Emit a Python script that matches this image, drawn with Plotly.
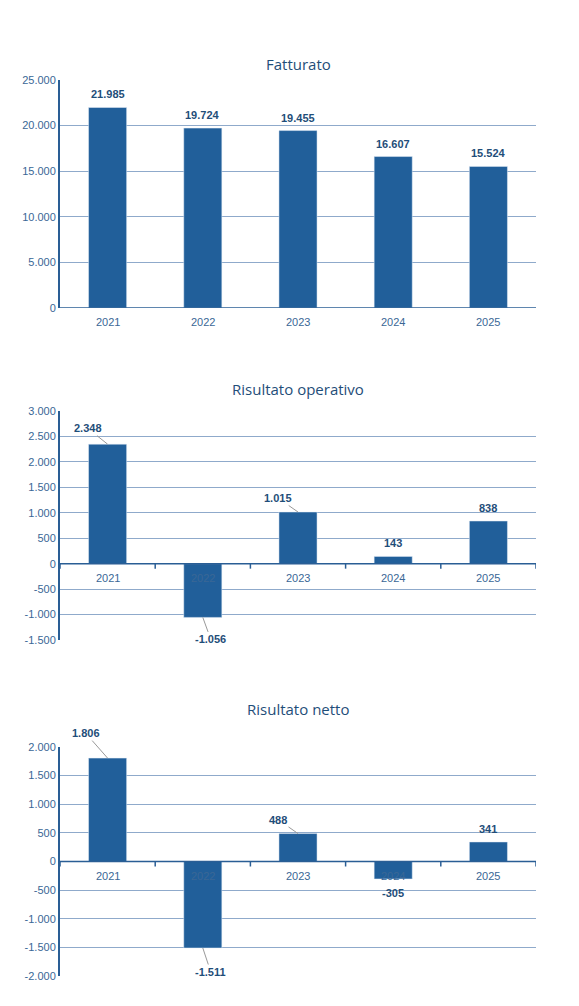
import plotly.graph_objects as go

years = ["2021", "2022", "2023", "2024", "2025"]
fatturato = [21985, 19724, 19455, 16607, 15524]
ris_operativo = [2348, -1056, 1015, 143, 838]
ris_netto = [1806, -1511, 488, -305, 341]
titles = ["Fatturato", "Risultato operativo", "Risultato netto"]
y_ticks = [
    [0, 5000, 10000, 15000, 20000, 25000],
    [-1500, -1000, -500, 0, 500, 1000, 1500, 2000, 2500, 3000],
    [-2000, -1500, -1000, -500, 0, 500, 1000, 1500, 2000],
]

def fmt(v):
    s = f"{abs(v):,}".replace(",", ".")
    return ("-" if v < 0 else "") + s

BAR = "#215F9A"
GRID = "#8FAACB"
TXT = "#3A6796"
LBL = "#1F4E79"
W, H = 579, 1006
ML, MR, MT, MB = 52, 51, 20, 20
IH = H - MT - MB
def py(p):
    return 1 - (p - MT) / IH
pix = [(72, 300), (403, 632), (739, 968)]
title_px = [44, 381, 713]

fig = go.Figure()
series = [fatturato, ris_operativo, ris_netto]
offs = [
    [None] * 5,
    [(-20, -16), (8, 22), (-20, -14), None, None],
    [(-22, -25), (8, 24), (-20, -14), None, None],
]
annotations = []
shapes = []
for i, vals in enumerate(series):
    n = str(i + 1) if i else ""
    top, bot = pix[i]
    dom = [py(bot), py(top)]
    tk = y_ticks[i]
    fig.add_trace(go.Bar(x=list(range(5)), y=vals, marker_color=BAR, width=0.4,
                         xaxis="x" + n, yaxis="y" + n, showlegend=False))
    fig.layout["xaxis" + n] = dict(domain=[0, 1], range=[-0.5, 4.5],
                                    anchor="y" + n, showticklabels=False, showgrid=False,
                                    zeroline=False, fixedrange=True)
    fig.layout["yaxis" + n] = dict(domain=dom, range=[tk[0], tk[-1]], anchor="x" + n,
                                    tickvals=tk, ticktext=[fmt(t) for t in tk],
                                    showgrid=True, gridcolor=GRID, gridwidth=1,
                                    showline=True, linecolor="#2A5E95", linewidth=2,
                                    zeroline=False, ticks="", automargin=False,
                                    tickfont=dict(family="Liberation Sans", size=11, color=TXT))
    xr, yr = "x" + n, "y" + n
    shapes.append(dict(type="line", xref=xr, yref=yr, x0=-0.5, x1=4.5, y0=0, y1=0,
                       line=dict(color="#2A5E95", width=1.5)))
    for k in range(6):
        shapes.append(dict(type="line", xref=xr, yref=yr, x0=k - 0.5, x1=k - 0.5,
                           ysizemode="pixel", yanchor=0, y0=0, y1=-5,
                           line=dict(color="#2A5E95", width=1.5)))
    for j, y in enumerate(years):
        annotations.append(dict(x=j, y=0, xref=xr, yref=yr, text=y, showarrow=False,
                                yshift=-14, font=dict(family="Liberation Sans", size=11, color=TXT)))
        v = vals[j]
        o = offs[i][j]
        if o is None:
            annotations.append(dict(x=j, y=v, xref=xr, yref=yr, text="<b>" + fmt(v) + "</b>",
                                    showarrow=False, yshift=(-14 if v < 0 else 13),
                                    font=dict(family="Liberation Sans", size=11, color=LBL)))
        else:
            annotations.append(dict(x=j, y=v, xref=xr, yref=yr, text="<b>" + fmt(v) + "</b>",
                                    showarrow=True, arrowhead=0, arrowcolor="#999999",
                                    arrowwidth=1, ax=o[0], ay=o[1],
                                    font=dict(family="Liberation Sans", size=11, color=LBL)))
    annotations.append(dict(x=0.5, y=py(title_px[i]), xref="paper", yref="paper",
                            text=titles[i], showarrow=False,
                            font=dict(family="Open Sans", size=15, color=LBL)))

fig.update_layout(annotations=annotations, shapes=shapes, width=W, height=H,
                  margin=dict(l=ML, r=MR, t=MT, b=MB, autoexpand=False),
                  plot_bgcolor="white", paper_bgcolor="white")
fig.write_html("out.html")
